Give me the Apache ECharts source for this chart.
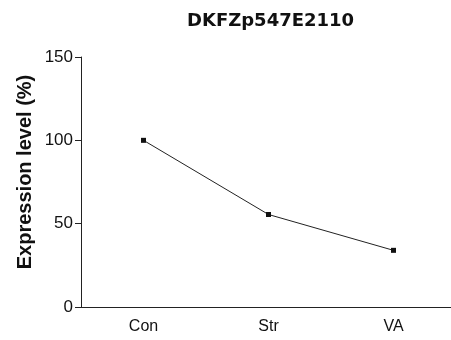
<!DOCTYPE html>
<html>
<head>
<meta charset="utf-8">
<script src="https://cdn.jsdelivr.net/npm/echarts@6/dist/echarts.min.js"></script>
<style>
  html, body { margin: 0; padding: 0; background: #fff; }
  #chart { width: 451px; height: 340px; }
</style>
</head>
<body>
<div id="chart"></div>
<script>
// Treatment groups and expression levels (% of control)
const categories = ['Con', 'Str', 'VA'];
const expression = [100, 55.5, 34];
const yTicks = { min: 0, max: 150, interval: 50 };

const chart = echarts.init(document.getElementById('chart'));
const font = 'Liberation Sans, Arial, sans-serif';

chart.setOption({
  animation: false,
  backgroundColor: '#ffffff',
  title: {
    text: 'DKFZp547E2110',
    left: 182,
    top: 7,
    textStyle: { fontFamily: 'DejaVu Sans', fontSize: 18, fontWeight: 'bold', color: '#111' }
  },
  graphic: [{
    type: 'text',
    rotation: Math.PI / 2,
    position: [25, 172],
    style: {
      text: 'Expression level (%)',
      font: 'bold 20px Liberation Sans, Arial, sans-serif',
      fill: '#111',
      textAlign: 'center',
      textVerticalAlign: 'middle'
    }
  }],
  // the x-axis runs a little past the right edge of the canvas
  grid: { left: 81, top: 57, width: 375, height: 250, outerBoundsMode: 'none' },
  xAxis: {
    type: 'category',
    data: categories,
    boundaryGap: true,
    axisLine: { lineStyle: { color: '#222', width: 1 } },
    axisTick: { alignWithLabel: true, length: 5, lineStyle: { color: '#222' } },
    axisLabel: { fontFamily: font, fontSize: 16, color: '#111', margin: 12 }
  },
  yAxis: {
    type: 'value',
    min: yTicks.min,
    max: yTicks.max,
    interval: yTicks.interval,
    splitLine: { show: false },
    axisLine: { show: true, lineStyle: { color: '#222', width: 1 } },
    axisTick: { show: true, length: 6, lineStyle: { color: '#222' } },
    axisLabel: { fontFamily: font, fontSize: 17, color: '#111', margin: 8 }
  },
  series: [{
    type: 'line',
    data: expression,
    symbol: 'rect',
    symbolSize: 5,
    itemStyle: { color: '#111' },
    lineStyle: { color: '#222', width: 1 }
  }]
});
</script>
</body>
</html>
